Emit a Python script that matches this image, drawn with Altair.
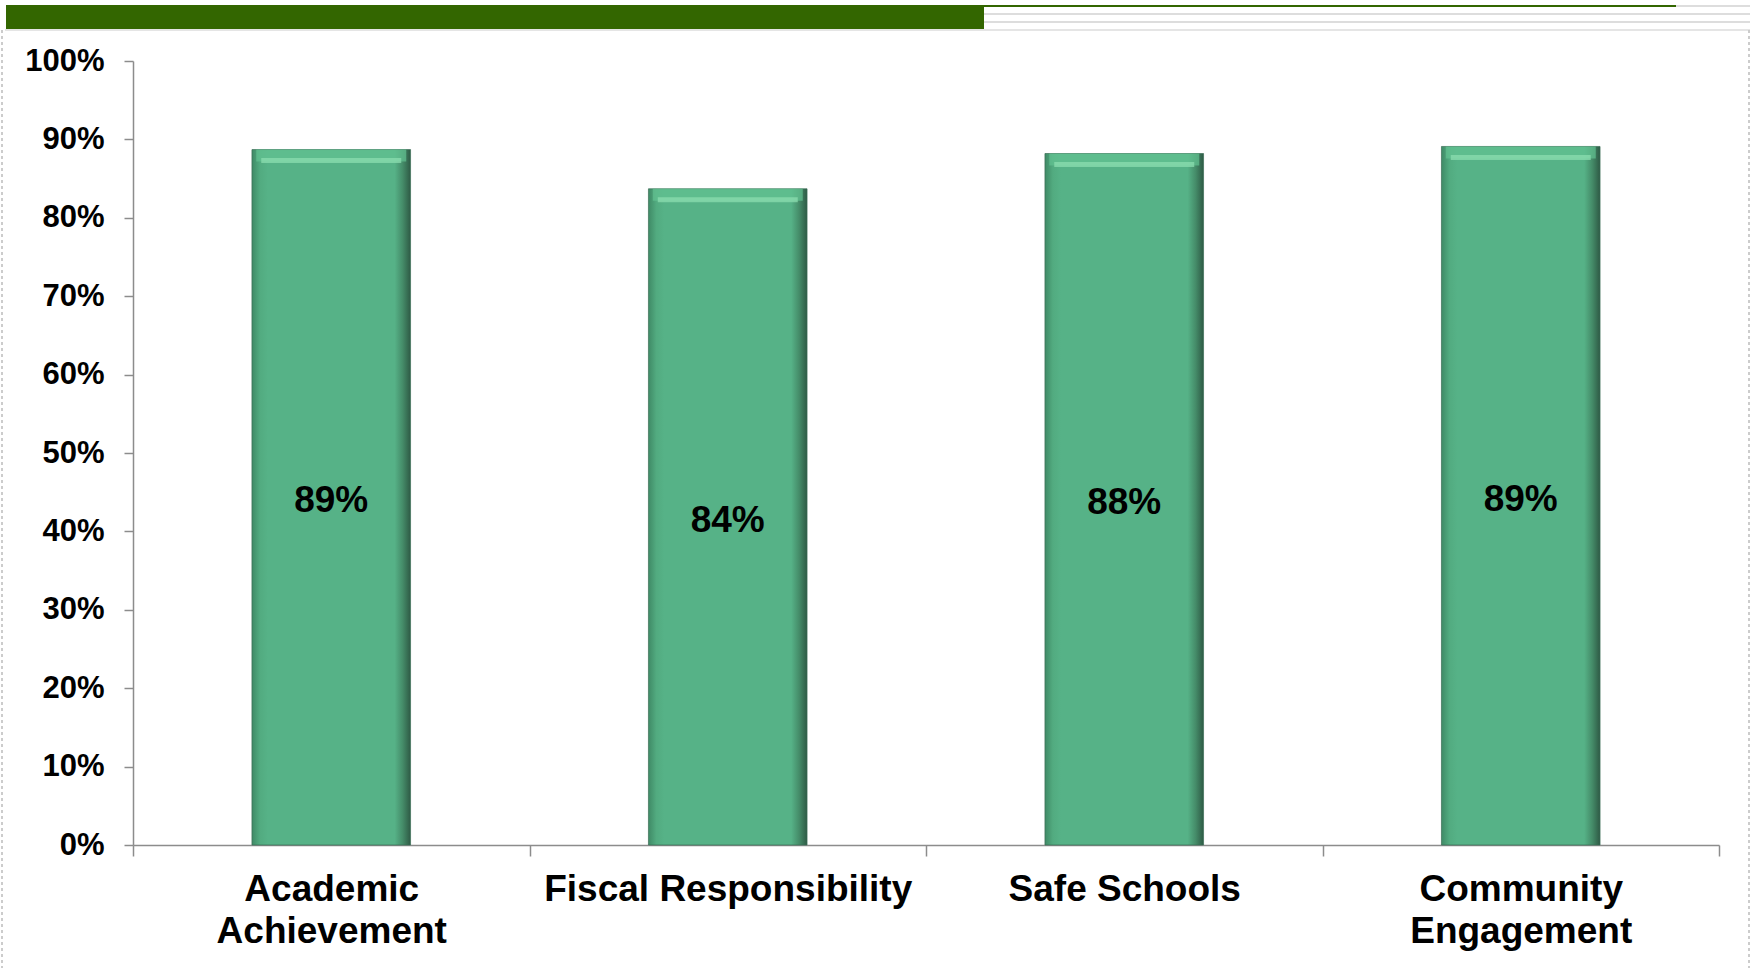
import altair as alt
import pandas as pd

categories = ["Academic Achievement", "Fiscal Responsibility", "Safe Schools", "Community Engagement"]
values = [0.887, 0.837, 0.882, 0.891]

W, H = 1586, 784
FONT = "Liberation Sans"

df = pd.DataFrame({"category": categories, "value": values})
one = pd.DataFrame({"a": [0]})

xenc = alt.X("category:N", sort=categories,
             scale=alt.Scale(paddingInner=0, paddingOuter=0),
             axis=alt.Axis(title=None, labelAngle=0, labelFontSize=37, labelFont=FONT,
                           labelFontWeight="bold", labelColor="#000000", labelPadding=15,
                           tickSize=11, tickBand="extent", labelLimit=0, labelLineHeight=42,
                           labelBaseline="top",
                           labelExpr="indexof(datum.label,'Academic')>=0 || indexof(datum.label,'Community')>=0 ? split(datum.label,' ') : datum.label"))
yenc = alt.Y("value:Q", scale=alt.Scale(domain=[0, 1], nice=False),
             axis=alt.Axis(title=None, format=".0%", values=[i / 10 for i in range(11)],
                           labelFontSize=31, labelFont=FONT, labelFontWeight="bold",
                           labelColor="#000000", tickSize=9, labelPadding=20, grid=False))

base = alt.Chart(df)

bars = base.mark_bar(
    width=alt.RelativeBandSize(0.4),
    color=alt.Gradient(gradient="linear", x1=0, y1=0, x2=1, y2=0,
                       stops=[alt.GradientStop(offset=0, color="#3f8a66"),
                              alt.GradientStop(offset=0.05, color="#52ab80"),
                              alt.GradientStop(offset=0.1, color="#56b287"),
                              alt.GradientStop(offset=0.9, color="#56b287"),
                              alt.GradientStop(offset=0.95, color="#458c69"),
                              alt.GradientStop(offset=1, color="#2e5a45")]),
    stroke="#3a6e55", strokeWidth=1, strokeOpacity=0.7
).encode(x=xenc, y=yenc)

top_bevel = base.mark_tick(size=150, thickness=12, yOffset=6, color="#62c292").encode(
    x=alt.X("category:N", sort=categories), y="value:Q")
highlight = base.mark_tick(size=140, thickness=5, yOffset=11, color="#8fdfb2").encode(
    x=alt.X("category:N", sort=categories), y="value:Q")

labels = base.transform_calculate(mid="datum.value/2").mark_text(
    font=FONT, fontSize=37, fontWeight="bold", color="#000000", baseline="middle", dy=4
).encode(x=alt.X("category:N", sort=categories), y="mid:Q", text=alt.Text("value:Q", format=".0%"))

deco = alt.Chart(one)
green_bar = deco.mark_rule(color="#336600", strokeWidth=24).encode(
    x=alt.value(-127), x2=alt.value(851), y=alt.value(-44))
green_line = deco.mark_rule(color="#336600", strokeWidth=2).encode(
    x=alt.value(851), x2=alt.value(1543), y=alt.value(-55))
grey_top = deco.mark_rule(color="#dddddd", strokeWidth=2).encode(
    x=alt.value(1543), x2=alt.value(1617), y=alt.value(-55))
grey1 = deco.mark_rule(color="#dddddd", strokeWidth=2).encode(
    x=alt.value(851), x2=alt.value(1617), y=alt.value(-47))
grey2 = deco.mark_rule(color="#dddddd", strokeWidth=2).encode(
    x=alt.value(851), x2=alt.value(1617), y=alt.value(-39))
grey3 = deco.mark_rule(color="#dddddd", strokeWidth=1.5).encode(
    x=alt.value(-128), x2=alt.value(1617), y=alt.value(-31))
left_dash = deco.mark_rule(color="#cccccc", strokeWidth=2, strokeDash=[3, 3]).encode(
    x=alt.value(-131), y=alt.value(-31), y2=alt.value(907))
right_dash = deco.mark_rule(color="#cccccc", strokeWidth=2, strokeDash=[3, 3]).encode(
    x=alt.value(1616), y=alt.value(-31), y2=alt.value(907))

chart = alt.layer(bars, top_bevel, highlight, labels, green_bar, green_line,
                  grey_top, grey1, grey2, grey3, left_dash, right_dash).properties(
    width=W, height=H,
    padding={"left": 133, "top": 61, "right": 31, "bottom": 123},
    autosize=alt.AutoSizeParams(type="none"),
    background="#ffffff"
).configure_axis(
    domainColor="#8c8c8c", tickColor="#8c8c8c", domainWidth=1.5, tickWidth=1.5
).configure_view(stroke=None)

chart.save("out.html", embed_options={"renderer": "svg", "actions": False})
